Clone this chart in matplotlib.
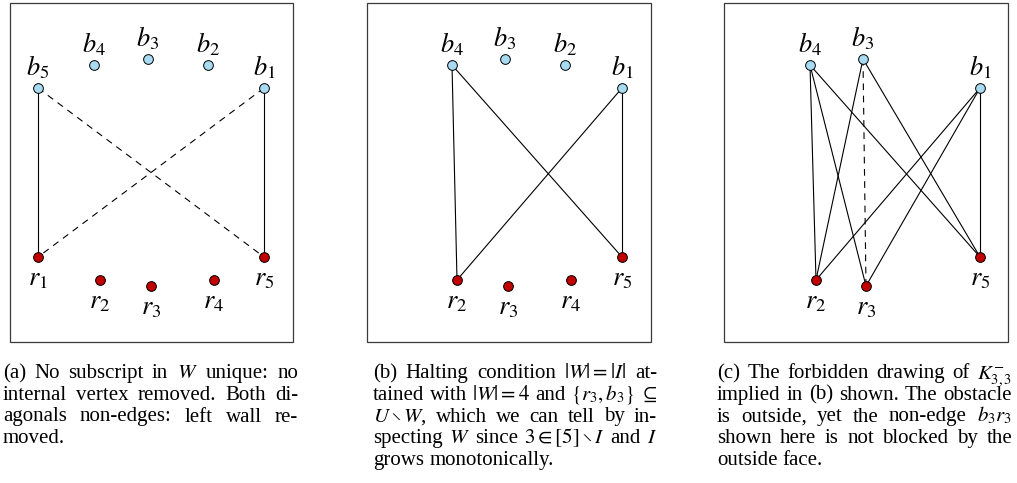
import matplotlib
matplotlib.use('Agg')
import matplotlib.pyplot as plt
from matplotlib.patches import Rectangle

plt.rcParams['font.family'] = 'Liberation Serif'
plt.rcParams['mathtext.fontset'] = 'stix'

W, H = 1017, 483
BLUE = '#a8daf2'
RED = '#c00000'
LABEL_FS = 19
CAP_FS = 15

# panel frames, pixel coords (left, right), shared top/bottom
frames = [(10, 293), (367, 651), (724, 1008)]
frame_top, frame_bot = 3, 342

# node positions for each panel
blue_a = {'b_5': (38, 88), 'b_4': (94, 65), 'b_3': (148, 59), 'b_2': (208, 65), 'b_1': (264, 88)}
red_a = {'r_1': (38, 257), 'r_2': (100, 280), 'r_3': (151, 286), 'r_4': (214, 280), 'r_5': (264, 257)}
solid_a = [('b_5', 'r_1'), ('b_1', 'r_5')]
dashed_a = [('b_5', 'r_5'), ('b_1', 'r_1')]

blue_b = {'b_4': (452, 65), 'b_3': (505, 59), 'b_2': (565, 65), 'b_1': (622, 88)}
red_b = {'r_2': (457, 280), 'r_3': (508, 286), 'r_4': (571, 280), 'r_5': (622, 257)}
solid_b = [('b_4', 'r_2'), ('b_4', 'r_5'), ('b_1', 'r_2'), ('b_1', 'r_5')]
dashed_b = []

blue_c = {'b_4': (810, 65), 'b_3': (863, 59), 'b_1': (980, 88)}
red_c = {'r_2': (816, 280), 'r_3': (866, 286), 'r_5': (980, 257)}
solid_c = [('b_4', 'r_2'), ('b_4', 'r_3'), ('b_4', 'r_5'), ('b_3', 'r_2'), ('b_3', 'r_5'),
           ('b_1', 'r_2'), ('b_1', 'r_3'), ('b_1', 'r_5')]
dashed_c = [('b_3', 'r_3')]

panels = [(blue_a, red_a, solid_a, dashed_a),
          (blue_b, red_b, solid_b, dashed_b),
          (blue_c, red_c, solid_c, dashed_c)]

# captions: one list of tokens per line, justified except the last line
cap_a = [
    ['(a)', 'No', 'subscript', 'in', '$W$', 'unique:', 'no'],
    ['internal', 'vertex', 'removed.', 'Both', 'di-'],
    ['agonals', 'non-edges:', 'left', 'wall', 're-'],
    ['moved.'],
]
cap_b = [
    ['(b)', 'Halting', 'condition', '$|W|=|I|$', 'at-'],
    ['tained', 'with', '$|W|=4$', 'and', r'$\{r_3,b_3\}$', r'$\subseteq$'],
    [r'$U\setminus W$,', 'which', 'we', 'can', 'tell', 'by', 'in-'],
    ['specting', '$W$', 'since', r'$3\in[5]\setminus I$', 'and', '$I$'],
    ['grows', 'monotonically.'],
]
cap_c = [
    ['(c)', 'The', 'forbidden', 'drawing', 'of', '$K_{3,3}^{-}$'],
    ['implied', 'in', '(b)', 'shown.', 'The', 'obstacle'],
    ['is', 'outside,', 'yet', 'the', 'non-edge', '$b_3r_3$'],
    ['shown', 'here', 'is', 'not', 'blocked', 'by', 'the'],
    ['outside', 'face.'],
]
captions = [(cap_a, 3, 298), (cap_b, 373, 657), (cap_c, 717, 1012)]
cap_y0, cap_dy = 378, 21.75

fig = plt.figure(figsize=(W / 100, H / 100), dpi=100)
ax = fig.add_axes([0, 0, 1, 1])
ax.set_xlim(0, W)
ax.set_ylim(H, 0)
ax.axis('off')

for (x0, x1) in frames:
    ax.add_patch(Rectangle((x0, frame_top), x1 - x0, frame_bot - frame_top,
                           fill=False, edgecolor='#3a3a3a', linewidth=0.9))

for blue, red, solid, dashed in panels:
    pos = {**blue, **red}
    for u, v in solid:
        ax.plot([pos[u][0], pos[v][0]], [pos[u][1], pos[v][1]], color='black', lw=0.8, zorder=2)
    for u, v in dashed:
        ax.plot([pos[u][0], pos[v][0]], [pos[u][1], pos[v][1]], color='black', lw=0.8,
                linestyle=(0, (6, 5)), zorder=2)
    for name, (x, y) in blue.items():
        ax.plot(x, y, 'o', ms=7, mfc=BLUE, mec='black', mew=0.7, zorder=3)
        ax.text(x, y - 13, f'${name}$', fontsize=LABEL_FS, ha='center', va='baseline')
    for name, (x, y) in red.items():
        ax.plot(x, y, 'o', ms=7, mfc=RED, mec='black', mew=0.7, zorder=3)
        ax.text(x, y + 28, f'${name}$', fontsize=LABEL_FS, ha='center', va='baseline')

# justify caption lines by spreading the words between the two edges
renderer = fig.canvas.get_renderer()
space = CAP_FS * 100 / 72 * 0.25

for lines, x0, x1 in captions:
    for i, toks in enumerate(lines):
        y = cap_y0 + i * cap_dy
        texts = [ax.text(0, y, t, fontsize=CAP_FS, va='baseline', ha='left') for t in toks]
        widths = [t.get_window_extent(renderer).width for t in texts]
        if i == len(lines) - 1 or len(toks) == 1:
            gap = space
        else:
            gap = (x1 - x0 - sum(widths)) / (len(toks) - 1)
        x = x0
        for t, w in zip(texts, widths):
            t.set_x(x)
            x += w + gap

fig.savefig('out.png', dpi=100)
